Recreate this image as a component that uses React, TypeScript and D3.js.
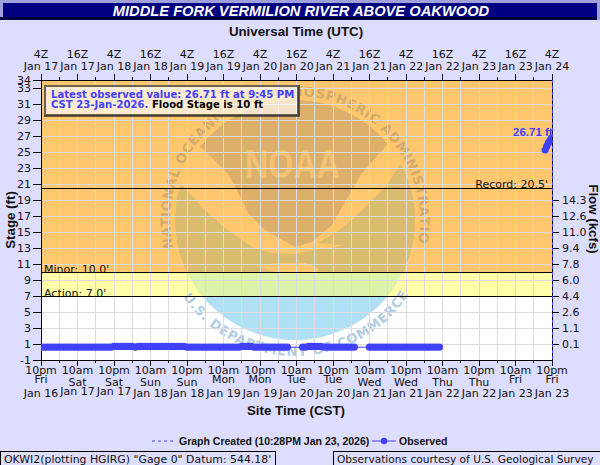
import React from "react";
import * as d3 from "d3";

const utcHourLabels = ["4Z", "16Z", "4Z", "16Z", "4Z", "16Z", "4Z", "16Z", "4Z", "16Z", "4Z", "16Z", "4Z", "16Z", "4Z"];
const utcDateLabels = ["Jan 17", "Jan 17", "Jan 18", "Jan 18", "Jan 19", "Jan 19", "Jan 20", "Jan 20", "Jan 21", "Jan 21", "Jan 22", "Jan 22", "Jan 23", "Jan 23", "Jan 24"];
const siteHourLabels = ["10pm", "10am", "10pm", "10am", "10pm", "10am", "10pm", "10am", "10pm", "10am", "10pm", "10am", "10pm", "10am", "10pm"];
const siteDayLabels = ["Fri", "Sat", "Sat", "Sun", "Sun", "Mon", "Mon", "Tue", "Tue", "Wed", "Wed", "Thu", "Thu", "Fri", "Fri"];
const siteDateLabels = ["Jan 16", "Jan 17", "Jan 17", "Jan 18", "Jan 18", "Jan 19", "Jan 19", "Jan 20", "Jan 20", "Jan 21", "Jan 21", "Jan 22", "Jan 22", "Jan 23", "Jan 23"];

const stageTicks = [34, 33, 31, 29, 27, 25, 23, 21, 19, 17, 15, 13, 11, 9, 7, 5, 3, 1, -1];
const flowLabels = ["14.3", "12.6", "11.0", "9.4", "7.8", "6.0", "4.4", "2.6", "1.1", "0.1"];
const flowStages = [19, 17, 15, 13, 11, 9, 7, 5, 3, 1];

// hourly stage readings, hours counted from 10pm CST Jan 16
const run1Start = 0;
const run1Stage = [
  0.6, 0.6, 0.6, 0.6, 0.6, 0.6, 0.6, 0.6, 0.6, 0.6, 0.6, 0.6, 0.6, 0.6, 0.6, 0.6, 0.6, 0.6, 0.6, 0.6, 0.6, 0.6, 0.6, 0.6,
  0.7, 0.7, 0.7, 0.7, 0.7, 0.7, 0.7, 0.6, 0.7, 0.7, 0.7, 0.7, 0.7, 0.7, 0.7, 0.7, 0.7, 0.7, 0.7, 0.7, 0.7, 0.7, 0.7, 0.7,
  0.6, 0.6, 0.6, 0.6, 0.6, 0.6, 0.6, 0.6, 0.6, 0.6, 0.6, 0.6, 0.6, 0.6, 0.6, 0.6, 0.6, 0.6, 0.7, 0.7, 0.7, 0.7,
  0.6, 0.6, 0.6, 0.6, 0.6, 0.6, 0.6, 0.6, 0.6, 0.6, 0.6, 0.6,
];
const run2Start = 86;
const run2Stage = [0.6, 0.6, 0.7, 0.7, 0.7, 0.7, 0.7, 0.6, 0.6, 0.6, 0.6, 0.6, 0.6, 0.6, 0.6, 0.6, 0.6, 0.6];
const run3Start = 108;
const run3Stage = [0.6, 0.6, 0.6, 0.6, 0.6, 0.6, 0.6, 0.6, 0.6, 0.6, 0.6, 0.6, 0.6, 0.6, 0.6, 0.6, 0.6, 0.6, 0.6, 0.6, 0.6, 0.6, 0.6, 0.6];
const lastHours = [165.75, 166.25, 166.75, 167.25, 167.75];
const lastStage = [25.25, 25.7, 26.1, 26.4, 26.71];

const recordStage = 20.5;
const minorStage = 10;
const actionStage = 7;

const blue = "#4040FF";
const sans = "'DejaVu Sans'";
const arial = "'Liberation Sans'";

const width = 600;
const height = 465;
const startMs = Date.UTC(2026, 0, 17, 4);
const at = (h: number) => new Date(startMs + h * 3600000);

const x = d3.scaleUtc().domain([at(0), at(168)]).range([41, 552]);
const y = d3.scaleLinear().domain([-1, 34]).range([360, 80]);

const gridHours = d3.utcHours(at(0), at(168.5), 6);
const majorHours = d3.utcHours(at(0), at(168.5), 12);

type Obs = { h: number; v: number };
const toObs = (start: number, values: number[]): Obs[] => values.map((v, i) => ({ h: start + i, v }));
const connected: Obs[] = [...toObs(run1Start, run1Stage), ...toObs(run2Start, run2Stage), ...toObs(run3Start, run3Stage)];
const lastObs: Obs[] = lastHours.map((h, i) => ({ h, v: lastStage[i] }));

const obsLine = d3.line<Obs>().x((d) => x(at(d.h))).y((d) => y(d.v));

// logo geometry, in page pixels
const cx = 295;
const cy = 220;
const smooth = d3.line().curve(d3.curveLinear);
const darkShape =
  "M200,146 A120,120 0 0 1 388,144 " +
  "L362,173 L352,190 L332,225 L312,242 L295,247 L265,230 L248,213 L237,190 L228,174 Z";
const lowerShape =
  smooth([[183, 186], [205, 210], [225, 228], [252, 247], [272, 253], [295, 254], [312, 250], [328, 248], [345, 245.5], [318, 243], [335, 233], [352, 220], [372, 200], [385, 187], [400, 165], [425, 165], [425, 350], [165, 350], [165, 186]]) +
  "Z " +
  smooth([[255, 265], [280, 263], [305, 263], [318, 268], [318, 274], [280, 274]]) +
  "Z";

const zones = [
  { top: 34, bottom: minorStage, bg: "#FFC66E", lower: "#DABC6E", upper: "#DCB06A" },
  { top: minorStage, bottom: actionStage, bg: "#FFFFAA", lower: "#DEF2AA", upper: "#DEF2AA" },
  { top: actionStage, bottom: -1, bg: "#FFFFFF", lower: "#B0E0F5", upper: "#B0E0F5" },
];

const weekdayRow = (d: string) => (d === "Fri" || d === "Mon" || d === "Tue" ? 383 : 386);
const dateRow = (d: string) => (d === "Jan 17" ? 395 : 397);

export default function App() {
  return (
    <svg width={width} height={height} style={{ position: "absolute", left: 0, top: 0, display: "block" }} fontFamily={sans} fontSize={11}>
      <defs>
        <clipPath id="logo-circle">
          <circle cx={cx} cy={cy} r={120} />
        </clipPath>
        <clipPath id="plot-clip">
          <rect x={41} y={80} width={511} height={280} />
        </clipPath>
        {zones.map((z, i) => (
          <clipPath id={`zone-${i}`} key={i}>
            <rect x={41} y={y(z.top)} width={511} height={y(z.bottom) - y(z.top)} />
          </clipPath>
        ))}
        <path id="ring-top" d={`M${cx - 122},${cy + 28} A125,125 0 1 1 ${cx + 122},${cy + 28}`} />
        <path id="ring-bottom" d={`M${cx - 112},${cy + 77} A136,136 0 0 0 ${cx + 112},${cy + 77}`} />
      </defs>

      <rect width={width} height={height} fill="#DDDDFF" />

      {/* title bar */}
      <rect x={0} y={0} width={width} height={20} fill="#A0A0DD" />
      <rect x={3} y={3} width={594} height={14} fill="#000080" />
      <rect x={0} y={17} width={597} height={3} fill="#000040" />
      <text x={301} y={16} textAnchor="middle" fill="#fff" fontFamily={arial} fontWeight="bold" fontStyle="italic" fontSize={14.7}>
        MIDDLE FORK VERMILION RIVER ABOVE OAKWOOD
      </text>

      <text x={296} y={36} textAnchor="middle" fontFamily={arial} fontWeight="bold" fontSize={13.3} fill="#111">
        Universal Time (UTC)
      </text>
      <text x={296} y={415} textAnchor="middle" fontFamily={arial} fontWeight="bold" fontSize={13.3} fill="#111">
        Site Time (CST)
      </text>
      <text transform="translate(15,220) rotate(-90)" textAnchor="middle" fontFamily={arial} fontWeight="bold" fontSize={13.3} fill="#111">
        Stage (ft)
      </text>
      <text transform="translate(589,219) rotate(90)" textAnchor="middle" fontFamily={arial} fontWeight="bold" fontSize={13.3} fill="#111">
        Flow (kcfs)
      </text>

      {/* flood zones with the seal showing through */}
      {zones.map((z, i) => (
        <g key={i} clipPath={`url(#zone-${i})`}>
          <rect x={41} y={y(z.top)} width={511} height={y(z.bottom) - y(z.top)} fill={z.bg} />
          <g clipPath="url(#logo-circle)">
            <path d={lowerShape} fill={z.lower} fillRule="evenodd" />
            <path d={darkShape} fill={z.upper} />
          </g>
        </g>
      ))}
      <text x={292.5} y={178} textAnchor="middle" fontFamily={arial} fontWeight="bold" fontSize={41} fill="#F4C270" textLength={95} lengthAdjust="spacingAndGlyphs">
        NOAA
      </text>
      <text fontWeight="bold" fontSize={13} fill="#D2AB6A" letterSpacing={0.7}>
        <textPath href="#ring-top">NATIONAL OCEANIC AND ATMOSPHERIC ADMINISTRATION</textPath>
      </text>
      <text fontWeight="bold" fontSize={13} fill="#B2CCE2" letterSpacing={0.8}>
        <textPath href="#ring-bottom">U.S. DEPARTMENT OF COMMERCE</textPath>
      </text>

      {/* grid */}
      <g stroke="#DCDCE0" strokeWidth={1} shapeRendering="crispEdges">
        {gridHours.map((d, i) => (
          <line key={i} x1={x(d)} x2={x(d)} y1={80} y2={360} />
        ))}
        {stageTicks.filter((s) => s !== 34 && s !== -1).map((s) => (
          <line key={s} x1={41} x2={552} y1={y(s)} y2={y(s)} />
        ))}
      </g>

      {/* stage thresholds */}
      <g stroke="#000" shapeRendering="crispEdges">
        {[recordStage, minorStage, actionStage].map((s) => (
          <line key={s} x1={41} x2={552} y1={y(s)} y2={y(s)} />
        ))}
      </g>
      <g fill="#111">
        <text x={548} y={y(recordStage)} textAnchor="end">Record: 20.5'</text>
        <text x={44} y={y(minorStage) + 0.5}>Minor: 10.0'</text>
        <text x={44} y={y(actionStage) + 0.5}>Action: 7.0'</text>
      </g>

      {/* axes */}
      <g stroke="#000" shapeRendering="crispEdges">
        <line x1={41} x2={41} y1={80} y2={360} />
        <line x1={41} x2={552} y1={80} y2={80} />
        <line x1={41} x2={552} y1={360} y2={360} />
        <line x1={552} x2={552} y1={80} y2={360} />
        {gridHours.map((d, i) => {
          const len = i % 2 === 0 ? 6 : 3;
          return (
            <g key={i}>
              <line x1={x(d)} x2={x(d)} y1={80 - len} y2={80} />
              <line x1={x(d)} x2={x(d)} y1={360} y2={360 + len} />
            </g>
          );
        })}
        {stageTicks.map((s) => (
          <line key={s} x1={33} x2={41} y1={y(s)} y2={y(s)} />
        ))}
        {flowStages.map((s) => (
          <line key={s} x1={552} x2={559} y1={y(s)} y2={y(s)} />
        ))}
      </g>
      <line x1={552.5} x2={552.5} y1={80} y2={360} stroke={blue} strokeDasharray="3,3" />

      <g fill="#111" textAnchor="end">
        {stageTicks.map((s) => (
          <text key={s} x={31} y={y(s) + 4}>{s}</text>
        ))}
      </g>
      <g fill="#111">
        {flowStages.map((s, i) => (
          <text key={s} x={562} y={y(s) + 4}>{flowLabels[i]}</text>
        ))}
      </g>
      <g fill="#111" textAnchor="middle">
        {majorHours.map((d, i) => (
          <g key={i}>
            <text x={x(d)} y={58}>{utcHourLabels[i]}</text>
            <text x={x(d)} y={70}>{utcDateLabels[i]}</text>
            <text x={x(d)} y={374}>{siteHourLabels[i]}</text>
            <text x={x(d)} y={weekdayRow(siteDayLabels[i])}>{siteDayLabels[i]}</text>
            <text x={x(d)} y={dateRow(siteDateLabels[i])}>{siteDateLabels[i]}</text>
          </g>
        ))}
      </g>

      {/* observed stage */}
      <g clipPath="url(#plot-clip)">
        <path d={obsLine(connected) ?? ""} fill="none" stroke={blue} strokeWidth={1} />
        {connected.map((d, i) => (
          <circle key={i} cx={x(at(d.h))} cy={y(d.v)} r={3.6} fill={blue} />
        ))}
        <path d={obsLine(lastObs) ?? ""} fill="none" stroke={blue} strokeWidth={1} />
        {lastObs.map((d, i) => (
          <circle key={i} cx={x(at(d.h))} cy={y(d.v)} r={3.6} fill={blue} />
        ))}
        <text x={513} y={136} fill={blue} fontFamily={arial} fontWeight="bold" fontSize={11.5}>26.71 ft</text>
      </g>

      {/* latest value box */}
      <rect x={45} y={86} width={253} height={29} fill="#fff" fillOpacity={0.65} stroke="#6E6250" strokeWidth={2} />
      <path d="M299,85 V116 H44" fill="none" stroke="#3C3428" strokeWidth={1.5} />
      <text x={51} y={98} fill={blue} fontWeight="bold" fontSize={10.1}>Latest observed value: 26.71 ft at 9:45 PM</text>
      <text x={51} y={108} fill={blue} fontWeight="bold" fontSize={10.1}>
        CST 23-Jan-2026. <tspan fill="#000">Flood Stage is 10 ft</tspan>
      </text>

      {/* legend */}
      <line x1={152} x2={173} y1={441} y2={441} stroke={blue} strokeDasharray="3,3" />
      <text x={179} y={445} fontFamily={arial} fontWeight="bold" fontSize={10.5} fill="#111">Graph Created (10:28PM Jan 23, 2026)</text>
      <line x1={372} x2={396} y1={441} y2={441} stroke={blue} />
      <circle cx={384} cy={441} r={3.2} fill={blue} />
      <text x={399} y={445} fontFamily={arial} fontWeight="bold" fontSize={10.5} fill="#111">Observed</text>

      {/* footer boxes */}
      <rect x={0.5} y={451.5} width={275} height={16} fill="none" stroke="#000" />
      <text x={4} y={463} fill="#111" fontSize={10.9}>OKWI2(plotting HGIRG) "Gage 0" Datum: 544.18'</text>
      <rect x={333.5} y={451.5} width={270} height={16} fill="none" stroke="#000" />
      <text x={337} y={463} fill="#111" fontSize={10.6}>Observations courtesy of U.S. Geological Survey</text>
    </svg>
  );
}
